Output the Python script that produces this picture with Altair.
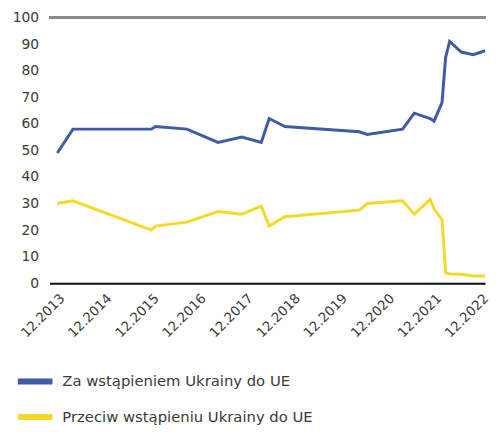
import altair as alt
import pandas as pd

dates = ["2013/12/01", "2014/04/01", "2015/12/01", "2016/01/01", "2016/09/01",
         "2017/05/01", "2017/11/01", "2018/04/01", "2018/06/01", "2018/10/01",
         "2020/05/01", "2020/07/01", "2021/04/01", "2021/07/01", "2021/11/01",
         "2021/12/01", "2022/02/01", "2022/03/01", "2022/04/01", "2022/07/01",
         "2022/10/01", "2023/01/01"]
za = [49, 58, 58, 59, 58, 53, 55, 53, 62, 59, 57, 56, 58, 64, 62, 61, 68, 85, 91, 87, 86, 87.5]
przeciw = [30, 31, 20, 21.5, 23, 27, 26, 29, 21.5, 25, 27.5, 30, 31, 26, 31.5, 28, 24, 4, 3.5, 3.4, 2.7, 2.7]
series_names = ["Za wstąpieniem Ukrainy do UE", "Przeciw wstąpieniu Ukrainy do UE"]
series_colors = ["#3f5ba8", "#f6d829"]
tick_years = list(range(2013, 2023))

rows = []
for d, a, b in zip(dates, za, przeciw):
    rows.append({"date": d, "value": a, "series": series_names[0]})
    rows.append({"date": d, "value": b, "series": series_names[1]})
df = pd.DataFrame(rows)

font = "DejaVu Sans"
text_color = "#3a3a3a"

y_axis = alt.Axis(values=list(range(0, 101, 10)), title=None, ticks=False,
                  domain=False, grid=False, labelFontSize=14,
                  labelColor=text_color, labelFont=font, labelPadding=11,
                  labelOverlap=False, labelLimit=0)

lines = alt.Chart(df).mark_line(strokeWidth=3).encode(
    x=alt.X("date:T",
            scale=alt.Scale(domain=[alt.DateTime(year=2013, month=10, date=1),
                                    alt.DateTime(year=2023, month=1, date=1)]),
            axis=alt.Axis(values=[alt.DateTime(year=y, month=12, date=1) for y in tick_years],
                          format="%m.%Y", labelAngle=-45, title=None, ticks=False,
                          grid=False, domainColor="#111111", domainWidth=2,
                          labelFontSize=13.5, labelColor=text_color, labelFont=font,
                          labelPadding=8, labelOverlap=False, labelLimit=0)),
    y=alt.Y("value:Q", scale=alt.Scale(domain=[0, 100]), axis=y_axis),
    color=alt.Color("series:N",
                    scale=alt.Scale(domain=series_names, range=series_colors),
                    sort=series_names,
                    legend=alt.Legend(title=None, orient="none", legendX=-35, legendY=348,
                                      direction="vertical", symbolType="stroke",
                                      symbolStrokeWidth=6, symbolSize=1225,
                                      labelFontSize=15, labelColor=text_color,
                                      labelFont=font, rowPadding=3, labelOffset=7,
                                      labelLimit=0)),
)

top_rule = alt.Chart(df).mark_rule(color="#8a8a8a", strokeWidth=2).encode(
    y=alt.Y(datum=100, scale=alt.Scale(domain=[0, 100]), axis=y_axis)
)

chart = alt.layer(lines, top_rule).properties(
    width=441, height=269,
    padding={"left": 4, "right": 0, "top": 0, "bottom": 0},
).configure_view(stroke=None)

chart.save("out.html", embed_options={"renderer": "svg", "actions": False})
